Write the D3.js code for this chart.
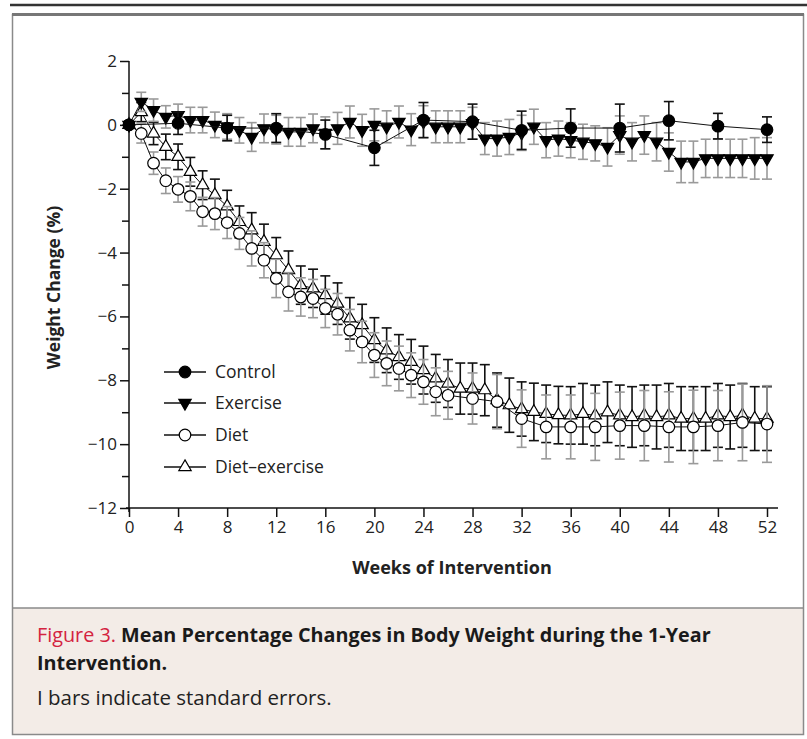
<!DOCTYPE html>
<html>
<head>
<meta charset="utf-8">
<script src="https://cdn.jsdelivr.net/npm/d3@7"></script>
<style>
  body { margin: 0; background: #fff; }
</style>
</head>
<body>
<div id="chart"></div>
<script>
// data (% weight change, mean and standard error)
const controlWeeks = [0, 4, 8, 12, 16, 20, 24, 28, 32, 36, 40, 44, 48, 52];
const controlMean = [0, 0.05, -0.1, -0.1, -0.3, -0.72, 0.15, 0.1, -0.17, -0.1, -0.1, 0.13, -0.04, -0.15];
const controlSE = [0, 0.35, 0.4, 0.45, 0.45, 0.55, 0.55, 0.55, 0.6, 0.6, 0.75, 0.6, 0.4, 0.4];

const exerciseWeeks = [0, 1, 2, 3, 4, 5, 6, 7, 8, 9, 10, 11, 12, 13, 14, 15, 16, 17, 18, 19, 20,
  21, 22, 23, 24, 25, 26, 27, 28, 29, 30, 31, 32, 33, 34, 35, 36, 37, 38, 39, 40,
  41, 42, 43, 44, 45, 46, 47, 48, 49, 50, 51, 52];
const exerciseMean = [0, 0.72, 0.46, 0.25, 0.3, 0.15, 0.15, 0.0, -0.05, -0.17, -0.38,
  -0.11, -0.15, -0.22, -0.22, -0.11, -0.25, -0.11, 0.09, -0.17, 0.0,
  -0.06, 0.09, -0.15, 0.1, -0.06, -0.06, -0.06, 0.05, -0.43, -0.43,
  -0.38, -0.25, -0.06, -0.48, -0.43, -0.48, -0.53, -0.58, -0.69, -0.32,
  -0.53, -0.32, -0.53, -0.85, -1.16, -1.16, -1.05, -1.05, -1.05, -1.05,
  -1.05, -1.05];
const exerciseSE = [0, 0.3, 0.35, 0.35, 0.35, 0.4, 0.4, 0.4, 0.4, 0.4, 0.45,
  0.45, 0.45, 0.45, 0.45, 0.45, 0.5, 0.5, 0.5, 0.5, 0.5,
  0.5, 0.5, 0.5, 0.5, 0.5, 0.5, 0.5, 0.5, 0.5, 0.55,
  0.55, 0.55, 0.55, 0.55, 0.55, 0.55, 0.55, 0.55, 0.6, 0.6,
  0.6, 0.6, 0.6, 0.6, 0.65, 0.65, 0.6, 0.6, 0.6, 0.6,
  0.65, 0.65];

const dietWeeks = [0, 1, 2, 3, 4, 5, 6, 7, 8, 9, 10, 11, 12, 13, 14, 15, 16, 17, 18, 19, 20,
  21, 22, 23, 24, 25, 26, 28, 30, 32, 34, 36, 38, 40, 42, 44, 46, 48, 50, 52];
const dietMean = [0, -0.27, -1.2, -1.75, -2.02, -2.24, -2.72, -2.78, -3.06, -3.4, -3.87,
  -4.24, -4.81, -5.23, -5.39, -5.44, -5.75, -5.93, -6.43, -6.8, -7.21,
  -7.47, -7.63, -7.84, -8.05, -8.36, -8.47, -8.57, -8.67, -9.2, -9.46,
  -9.46, -9.46, -9.42, -9.42, -9.46, -9.46, -9.42, -9.32, -9.37];
const dietSE = [0, 0.3, 0.35, 0.4, 0.4, 0.45, 0.45, 0.5, 0.5, 0.5, 0.55,
  0.55, 0.6, 0.6, 0.6, 0.6, 0.6, 0.65, 0.65, 0.65, 0.7,
  0.7, 0.7, 0.7, 0.7, 0.75, 0.75, 0.8, 0.85, 0.9, 1.0,
  1.0, 1.05, 1.05, 1.1, 1.1, 1.15, 1.1, 1.2, 1.2];

const dietExWeeks = exerciseWeeks;
const dietExMean = [0, 0.4, -0.27, -0.69, -1.0, -1.47, -1.89, -2.2, -2.55, -3.04, -3.3,
  -3.66, -4.08, -4.55, -5.02, -5.12, -5.33, -5.6, -6.06, -6.27, -6.74,
  -7.06, -7.27, -7.42, -7.68, -7.94, -8.1, -8.26, -8.26, -8.31, -8.62,
  -8.78, -8.9, -8.99, -9.05, -9.09, -9.1, -9.05, -9.1, -9.0, -9.1,
  -9.15, -9.1, -9.15, -9.1, -9.2, -9.2, -9.2, -9.1, -9.15, -9.1,
  -9.2, -9.2];
const dietExSE = [0, 0.3, 0.35, 0.4, 0.4, 0.45, 0.45, 0.5, 0.5, 0.5, 0.55,
  0.55, 0.55, 0.6, 0.6, 0.6, 0.6, 0.65, 0.65, 0.65, 0.7,
  0.7, 0.7, 0.7, 0.75, 0.75, 0.75, 0.8, 0.8, 0.8, 0.85,
  0.85, 0.85, 0.9, 0.9, 0.9, 0.9, 0.95, 0.95, 0.95, 0.95,
  0.95, 0.95, 1.0, 1.0, 1.0, 1.0, 1.0, 1.0, 1.0, 1.0,
  1.0, 1.0];

const xTicks = [0, 4, 8, 12, 16, 20, 24, 28, 32, 36, 40, 44, 48, 52];
const yTicks = [2, 0, -2, -4, -6, -8, -10, -12];
const yMinorTicks = [1, -1, -3, -5, -7, -9, -11];

const W = 807, H = 739;

const svg = d3.select("#chart")
  .append("svg")
    .attr("width", W)
    .attr("height", H);

// outer frame and caption panel
svg.append("line")
  .attr("x1", 10).attr("x2", W).attr("y1", 5).attr("y2", 5)
  .attr("stroke", "#333").attr("stroke-width", 2.5);
svg.append("rect")
  .attr("x", 13).attr("y", 608).attr("width", 790).attr("height", 126)
  .attr("fill", "#f3ece7");
svg.append("rect")
  .attr("x", 12.5).attr("y", 14.5).attr("width", 791).attr("height", 720)
  .attr("fill", "none").attr("stroke", "#8a8a8a").attr("stroke-width", 1.5);
svg.append("line")
  .attr("x1", 12).attr("x2", 804).attr("y1", 14.5).attr("y2", 14.5)
  .attr("stroke", "#777").attr("stroke-width", 3);
svg.append("line")
  .attr("x1", 12).attr("x2", 804).attr("y1", 608).attr("y2", 608)
  .attr("stroke", "#8a8a8a").attr("stroke-width", 1.5);

// scales
const x = d3.scaleLinear().domain([0, 52]).range([129, 767]);
const y = d3.scaleLinear().domain([-12, 2]).range([508, 61]);

// y axis
const yAxis = svg.append("g")
  .attr("transform", `translate(${x(0)},0)`)
  .call(d3.axisLeft(y).tickValues(yTicks).tickSize(9).tickPadding(3));
yAxis.select(".domain").remove();
yAxis.selectAll(".tick line").attr("stroke", "#111").attr("stroke-width", 1.5);
yAxis.selectAll(".tick text")
  .attr("font-family", "'Open Sans', sans-serif")
  .attr("font-size", "17px")
  .attr("fill", "#222");

const yMinor = svg.append("g")
  .attr("transform", `translate(${x(0)},0)`)
  .call(d3.axisLeft(y).tickValues(yMinorTicks).tickSize(7).tickFormat(""));
yMinor.select(".domain").remove();
yMinor.selectAll(".tick line").attr("stroke", "#111").attr("stroke-width", 1.5);

svg.append("line")
  .attr("x1", x(0)).attr("x2", x(0))
  .attr("y1", y(2)).attr("y2", y(-12) + 4)
  .attr("stroke", "#111").attr("stroke-width", 1.5);

// x axis
const xAxis = svg.append("g")
  .attr("transform", `translate(0,${y(-12)})`)
  .call(d3.axisBottom(x).tickValues(xTicks).tickSize(9).tickPadding(4));
xAxis.select(".domain").remove();
xAxis.selectAll(".tick line").attr("stroke", "#111").attr("stroke-width", 1.5);
xAxis.selectAll(".tick text")
  .attr("font-family", "'Open Sans', sans-serif")
  .attr("font-size", "17px")
  .attr("fill", "#222");

svg.append("line")
  .attr("x1", x(0) - 3).attr("x2", x(52) + 11)
  .attr("y1", y(-12)).attr("y2", y(-12))
  .attr("stroke", "#111").attr("stroke-width", 1.5);

// axis titles
svg.append("text")
  .text("Weight Change (%)")
  .attr("transform", `translate(60,${(y(2) + y(-12)) / 2 + 3}) rotate(-90)`)
  .attr("text-anchor", "middle")
  .attr("font-family", "'Open Sans', sans-serif")
  .attr("font-weight", "bold")
  .attr("font-size", "17.5px")
  .attr("fill", "#222");

svg.append("text")
  .text("Weeks of Intervention")
  .attr("x", 452).attr("y", 574)
  .attr("text-anchor", "middle")
  .attr("font-family", "'Open Sans', sans-serif")
  .attr("font-weight", "bold")
  .attr("font-size", "18px")
  .attr("fill", "#222");

// series
const series = [
  {name: "Diet\u2013exercise", weeks: dietExWeeks, mean: dietExMean, se: dietExSE, shape: "triUp", fill: "#fff", err: "#111"},
  {name: "Diet", weeks: dietWeeks, mean: dietMean, se: dietSE, shape: "circle", fill: "#fff", err: "#9a9a9a"},
  {name: "Exercise", weeks: exerciseWeeks, mean: exerciseMean, se: exerciseSE, shape: "triDown", fill: "#000", err: "#9a9a9a"},
  {name: "Control", weeks: controlWeeks, mean: controlMean, se: controlSE, shape: "circle", fill: "#000", err: "#111"}
];

const symbolFor = s => s === "circle"
  ? d3.symbol().type(d3.symbolCircle).size(105)()
  : d3.symbol().type(d3.symbolTriangle).size(66)();
const rotFor = s => s === "triDown" ? " rotate(180)" : "";

const line = d3.line().x(d => x(d.w)).y(d => y(d.m));
const capW = 5;

series.forEach(s => {
  const pts = s.weeks.map((w, i) => ({w: w, m: s.mean[i], e: s.se[i]}));
  const g = svg.append("g");

  const eb = g.selectAll(".err")
    .data(pts.filter(d => d.e > 0))
    .join("g")
    .attr("stroke", s.err)
    .attr("stroke-width", 1.6);
  eb.append("line")
    .attr("x1", d => x(d.w)).attr("x2", d => x(d.w))
    .attr("y1", d => y(d.m + d.e)).attr("y2", d => y(d.m - d.e));
  eb.append("line")
    .attr("x1", d => x(d.w) - capW).attr("x2", d => x(d.w) + capW)
    .attr("y1", d => y(d.m + d.e)).attr("y2", d => y(d.m + d.e));
  eb.append("line")
    .attr("x1", d => x(d.w) - capW).attr("x2", d => x(d.w) + capW)
    .attr("y1", d => y(d.m - d.e)).attr("y2", d => y(d.m - d.e));

  g.append("path")
    .datum(pts)
    .attr("d", line)
    .attr("fill", "none")
    .attr("stroke", "#111")
    .attr("stroke-width", 1);

  g.selectAll(".mark")
    .data(pts)
    .join("path")
    .attr("d", symbolFor(s.shape))
    .attr("transform", d => `translate(${x(d.w)},${y(d.m)})${rotFor(s.shape)}`)
    .attr("fill", s.fill)
    .attr("stroke", "#000")
    .attr("stroke-width", 1.2);
});

// legend
const legendRows = [
  {name: "Control", shape: "circle", fill: "#000", y: 372},
  {name: "Exercise", shape: "triDown", fill: "#000", y: 403},
  {name: "Diet", shape: "circle", fill: "#fff", y: 435},
  {name: "Diet\u2013exercise", shape: "triUp", fill: "#fff", y: 467}
];
const leg = svg.append("g").selectAll("g")
  .data(legendRows)
  .join("g")
  .attr("transform", d => `translate(0,${d.y})`);
leg.append("line")
  .attr("x1", 164).attr("x2", 206)
  .attr("stroke", "#111").attr("stroke-width", 1.5);
leg.append("path")
  .attr("d", d => symbolFor(d.shape))
  .attr("transform", d => `translate(185,0)${rotFor(d.shape)}`)
  .attr("fill", d => d.fill)
  .attr("stroke", "#000")
  .attr("stroke-width", 1.2);
leg.append("text")
  .text(d => d.name)
  .attr("x", 215).attr("y", 6)
  .attr("font-family", "'Open Sans', sans-serif")
  .attr("font-size", "17.5px")
  .attr("fill", "#222");

// caption
const cap = svg.append("text")
  .attr("x", 37).attr("y", 642)
  .attr("font-family", "'Open Sans', sans-serif")
  .attr("font-size", "19.8px");
cap.append("tspan").text("Figure 3. ").attr("fill", "#d4233f");
cap.append("tspan").text("Mean Percentage Changes in Body Weight during the 1-Year")
  .attr("font-weight", "bold").attr("fill", "#1a1a1a");
svg.append("text")
  .text("Intervention.")
  .attr("x", 37).attr("y", 670)
  .attr("font-family", "'Open Sans', sans-serif")
  .attr("font-size", "19.8px")
  .attr("font-weight", "bold")
  .attr("fill", "#1a1a1a");
svg.append("text")
  .text("I bars indicate standard errors.")
  .attr("x", 37).attr("y", 705)
  .attr("font-family", "'Open Sans', sans-serif")
  .attr("font-size", "20.5px")
  .attr("fill", "#222");
</script>
</body>
</html>
